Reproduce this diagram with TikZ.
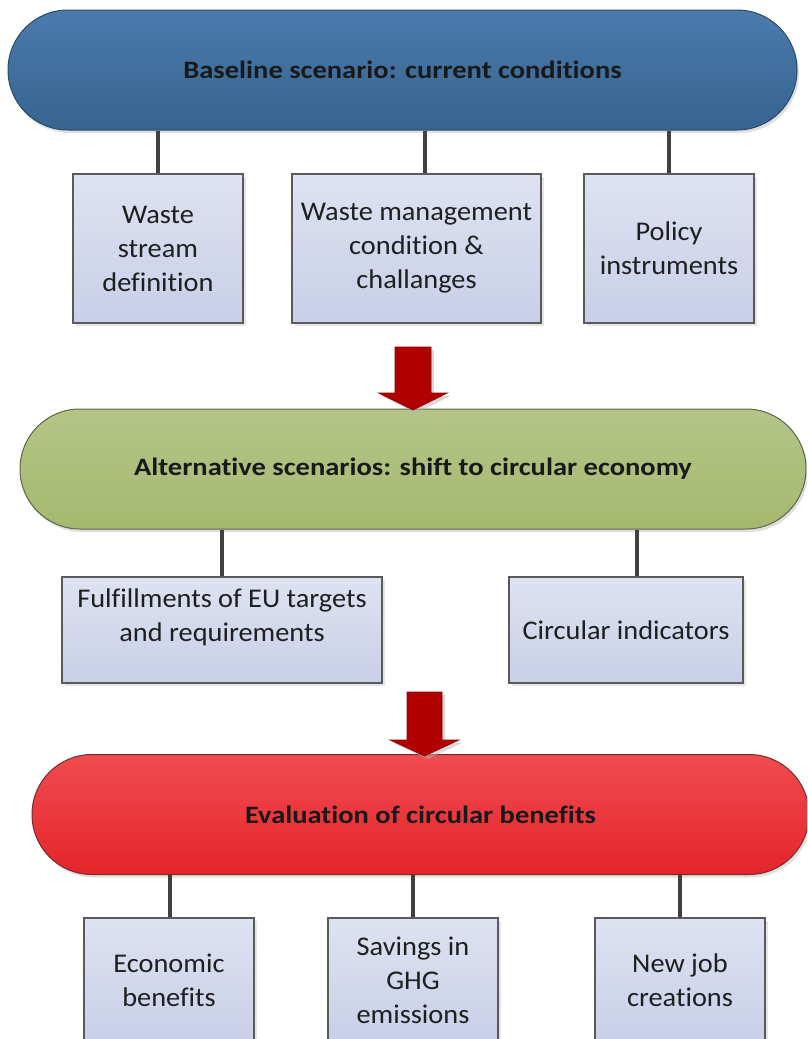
\documentclass[tikz,border=0pt]{standalone}
\usepackage{fontspec}
\setmainfont{Carlito}
\usetikzlibrary{shadows}
\definecolor{bluetop}{HTML}{4A7BAD}
\definecolor{bluebot}{HTML}{37648F}
\definecolor{blueline}{HTML}{2C4A6A}
\definecolor{greentop}{HTML}{B4C587}
\definecolor{greenbot}{HTML}{A6B86F}
\definecolor{greenline}{HTML}{5C6648}
\definecolor{redtop}{HTML}{F14B50}
\definecolor{redbot}{HTML}{E3252A}
\definecolor{redline}{HTML}{7A2A2C}
\definecolor{boxtop}{HTML}{DEE2F1}
\definecolor{boxbot}{HTML}{C8CFE7}
\definecolor{boxline}{HTML}{5A5A5A}
\definecolor{arrowred}{HTML}{B00000}
\definecolor{linkgray}{HTML}{404040}
\newfontfamily\titlefont[FakeStretch=1.14, Ligatures=NoCommon]{Carlito}
\newfontfamily\labelfont[FakeStretch=1.05, Ligatures=NoCommon]{Carlito}
\tikzset{
  pill/.style={draw, line width=1pt, rounded corners=59.9pt, minimum height=120pt,
    inner sep=0pt, font=\titlefont\fontsize{25}{30}\selectfont\bfseries, text=black!90,
    drop shadow={shadow xshift=2pt, shadow yshift=-3pt, fill=black!25, opacity=0.5}},
  infobox/.style={draw=boxline, line width=1.2pt, top color=boxtop, bottom color=boxbot,
    inner sep=0pt, align=center, font=\labelfont\fontsize{27}{34}\selectfont, text=black!88,
    drop shadow={shadow xshift=3pt, shadow yshift=-3pt, fill=black!20, opacity=0.5}},
  boxtext/.style={inner sep=0pt, align=center, font=\labelfont\fontsize{27}{34}\selectfont, text=black!88},
  link/.style={draw=linkgray, line width=4pt},
  blockarrow/.style={fill=arrowred, draw=arrowred!80!black, line width=0.6pt,
    drop shadow={shadow xshift=3pt, shadow yshift=-3pt, fill=black!30, opacity=0.5}}
}
\begin{document}
\begin{tikzpicture}[x=1pt, y=-1pt]
\clip (0,0) rectangle (807,1039);
\useasboundingbox (0,0) rectangle (807,1039);

% scenario bars
\node[pill, top color=bluetop, bottom color=bluebot, draw=blueline, minimum width=789pt]
  (base) at (402.5,70) {Baseline scenario: current conditions};
\node[pill, top color=greentop, bottom color=greenbot, draw=greenline, minimum width=786pt]
  (alt) at (413,469) {Alternative scenarios: shift to circular economy};
\node[pill, top color=redtop, bottom color=redbot, draw=redline, minimum width=777pt]
  (eval) at (420.5,814.5) {Evaluation of circular benefits};

% first row of boxes
\node[infobox, minimum width=170pt, minimum height=149pt] (b1) at (158,248.5) {Waste\\stream\\definition};
\node[infobox, minimum width=249pt, minimum height=149pt] (b2) at (416.5,248.5) {Waste management\\condition \&\\challanges};
\node[infobox, minimum width=170pt, minimum height=149pt] (b3) at (669,248.5) {Policy\\instruments};

% second row of boxes
\node[infobox, minimum width=320pt, minimum height=106pt] (b4) at (222,630) {};
\node[boxtext] (b4t) at (222,617) {Fulfillments of EU targets\\and requirements};
\node[infobox, minimum width=234pt, minimum height=106pt] (b5) at (626,630) {Circular indicators};

% third row of boxes
\node[infobox, minimum width=170pt, minimum height=124pt] (b6) at (169,980) {Economic\\benefits};
\node[infobox, minimum width=170pt, minimum height=124pt] (b7) at (413,980) {Savings in\\GHG\\emissions};
\node[infobox, minimum width=170pt, minimum height=124pt] (b8) at (680,980) {New job\\creations};

% connector columns
\coordinate (c1) at (158,0);
\coordinate (c2) at (425,0);
\coordinate (c3) at (669,0);
\coordinate (c4) at (222,0);
\coordinate (c5) at (637,0);
\coordinate (c6) at (170,0);
\coordinate (c7) at (413,0);
\coordinate (c8) at (680,0);

\draw[link] (base.south -| c1) -- (b1.north -| c1);
\draw[link] (base.south -| c2) -- (b2.north -| c2);
\draw[link] (base.south -| c3) -- (b3.north -| c3);
\draw[link] (alt.south -| c4) -- (b4.north -| c4);
\draw[link] (alt.south -| c5) -- (b5.north -| c5);
\draw[link] (eval.south -| c6) -- (b6.north -| c6);
\draw[link] (eval.south -| c7) -- (b7.north -| c7);
\draw[link] (eval.south -| c8) -- (b8.north -| c8);

% block arrows between the stages
\coordinate (t1) at (413,410);
\coordinate (t2) at (424.5,756);
\path[blockarrow] (t1) -- ++(-34.5,-17) -- ++(16.5,0) -- ++(0,-46) -- ++(36,0)
  -- ++(0,46) -- ++(16.5,0) -- cycle;
\path[blockarrow] (t2) -- ++(-34.5,-16) -- ++(17,0) -- ++(0,-48) -- ++(35,0)
  -- ++(0,48) -- ++(17,0) -- cycle;
\end{tikzpicture}
\end{document}
